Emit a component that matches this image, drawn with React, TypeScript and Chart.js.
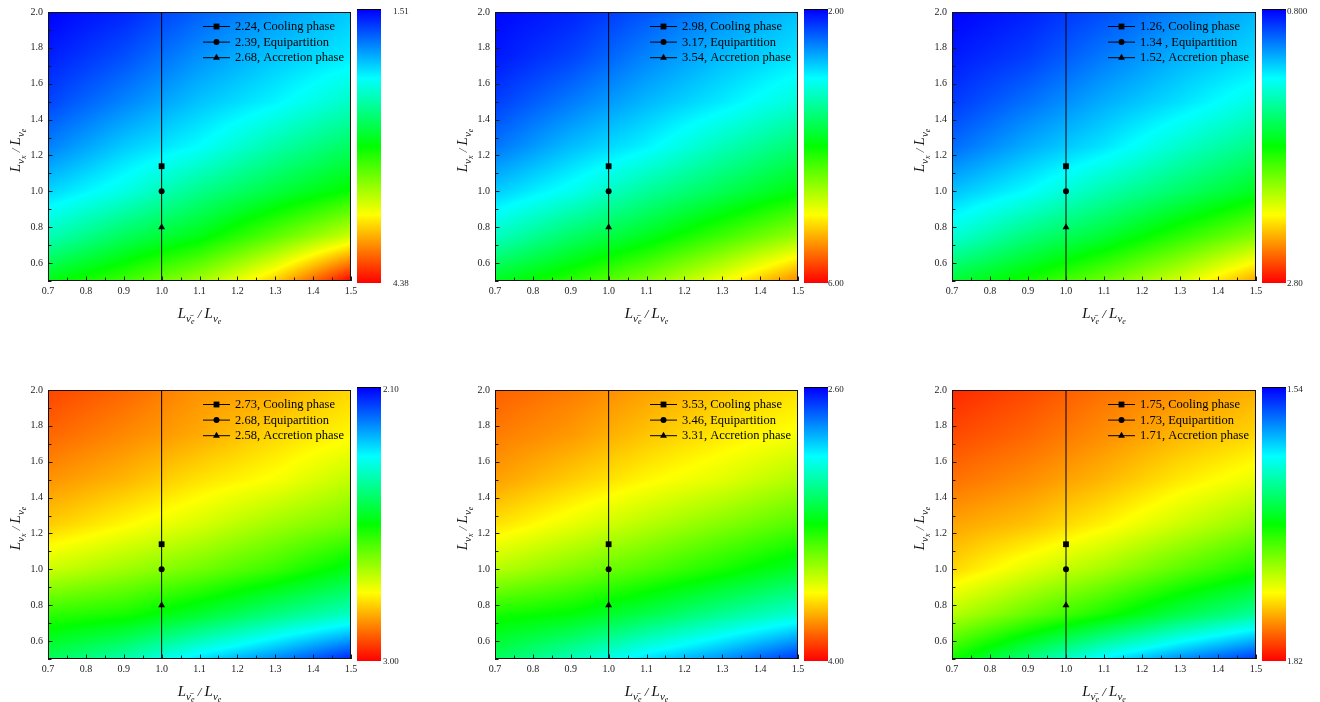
import React, { useEffect, useRef } from "react";
import { Chart, registerables } from "chart.js";

Chart.register(...registerables);

// ---------------- data ----------------
// grid nodes of the colour maps
const gridX = [0.7, 0.9, 1.1, 1.3, 1.5];
const gridY = [0.5, 0.75, 1.0, 1.25, 1.5, 1.75, 2.0];

// values, one row per gridY value (bottom to top), one column per gridX value
const fieldA = [
  [2.9, 3.12, 3.4, 3.81, 4.38],
  [2.43, 2.69, 2.89, 3.2, 3.52],
  [2.11, 2.3, 2.56, 2.77, 2.97],
  [1.87, 2.08, 2.23, 2.47, 2.68],
  [1.7, 1.88, 2.06, 2.2, 2.39],
  [1.59, 1.73, 1.92, 2.07, 2.18],
  [1.51, 1.61, 1.78, 1.94, 2.08],
];
const fieldB = [
  [3.88, 4.16, 4.52, 4.96, 5.48],
  [3.24, 3.6, 3.88, 4.24, 4.6],
  [2.8, 3.06, 3.4, 3.68, 3.96],
  [2.46, 2.74, 2.96, 3.28, 3.56],
  [2.24, 2.48, 2.72, 2.92, 3.16],
  [2.09, 2.26, 2.52, 2.74, 2.9],
  [2.02, 2.13, 2.33, 2.56, 2.76],
];
const fieldC = [
  [1.7, 1.84, 2.02, 2.22, 2.48],
  [1.38, 1.56, 1.7, 1.88, 2.06],
  [1.18, 1.3, 1.46, 1.6, 1.74],
  [1.01, 1.14, 1.25, 1.4, 1.54],
  [0.91, 1.02, 1.14, 1.24, 1.36],
  [0.85, 0.92, 1.04, 1.15, 1.23],
  [0.8, 0.86, 0.95, 1.06, 1.16],
];
const fieldD = [
  [2.47, 2.4, 2.3, 2.22, 2.13],
  [2.59, 2.57, 2.51, 2.44, 2.38],
  [2.73, 2.69, 2.65, 2.6, 2.53],
  [2.82, 2.78, 2.74, 2.69, 2.65],
  [2.87, 2.84, 2.8, 2.77, 2.72],
  [2.91, 2.88, 2.85, 2.81, 2.78],
  [2.94, 2.91, 2.87, 2.85, 2.81],
];
const fieldE = [
  [3.17, 3.05, 2.91, 2.8, 2.67],
  [3.33, 3.29, 3.2, 3.1, 3.01],
  [3.55, 3.48, 3.41, 3.33, 3.24],
  [3.69, 3.62, 3.55, 3.48, 3.41],
  [3.78, 3.72, 3.66, 3.61, 3.54],
  [3.83, 3.79, 3.73, 3.68, 3.64],
  [3.87, 3.83, 3.78, 3.73, 3.69],
];
const fieldF = [
  [1.684, 1.645, 1.607, 1.579, 1.554],
  [1.73, 1.708, 1.686, 1.66, 1.638],
  [1.761, 1.742, 1.725, 1.705, 1.686],
  [1.775, 1.767, 1.753, 1.736, 1.719],
  [1.789, 1.781, 1.77, 1.756, 1.744],
  [1.8, 1.792, 1.781, 1.77, 1.761],
  [1.809, 1.8, 1.789, 1.781, 1.772],
];
const fields = [fieldA, fieldB, fieldC, fieldD, fieldE, fieldF];

// colour bar ranges
const barLow = [1.51, 2.0, 0.8, 2.1, 2.6, 1.54];
const barHigh = [4.38, 6.0, 2.8, 3.0, 4.0, 1.82];
const barLowText = ["1.51", "2.00", "0.800", "2.10", "2.60", "1.54"];
const barHighText = ["4.38", "6.00", "2.80", "3.00", "4.00", "1.82"];

// marked points (x = 1.0)
const markerX = 1.0;
const markerY = [1.14, 1.0, 0.8]; // cooling, equipartition, accretion
const coolingVals = [2.24, 2.98, 1.26, 2.73, 3.53, 1.75];
const equipVals = [2.39, 3.17, 1.34, 2.68, 3.46, 1.73];
const accretionVals = [2.68, 3.54, 1.52, 2.58, 3.31, 1.71];
const equipSep = [", ", ", ", " , ", ", ", ", ", ", "];
const seriesNames = ["Cooling phase", "Equipartition", "Accretion phase"];
const seriesStyles = ["rect", "circle", "triangle"];
const lineY = [0.5, 2.0];

// axes
const xTicks = [0.7, 0.8, 0.9, 1.0, 1.1, 1.2, 1.3, 1.4, 1.5];
const xMinor = [0.75, 0.85, 0.95, 1.05, 1.15, 1.25, 1.35, 1.45];
const yTicks = [0.6, 0.8, 1.0, 1.2, 1.4, 1.6, 1.8, 2.0];
const yMinor = [0.5, 0.7, 0.9, 1.1, 1.3, 1.5, 1.7, 1.9];
const xMin = 0.7, xMax = 1.5, yMin = 0.5, yMax = 2.0;

// ---------------- layout ----------------
const FONT = "'Liberation Serif', 'Times New Roman', Times, serif";
const canvasLeft = [0, 447, 904];
const canvasW = [440, 440, 416];
const plotW = [303, 303, 304];
const canvasTop = [0, 378];
const canvasH = [340, 324];
const PLOT_L = 48;
const PLOT_T = 12;
const PLOT_H = 269;
const barLabelGap = [12, 0, 1, 2, 0, 1];

type Piece = { t: string; s: number; dy: number };
const xTitle: Piece[] = [
  { t: "L", s: 15, dy: 0 },
  { t: "\u03BD\u0304", s: 11, dy: 3.5 },
  { t: "e", s: 8, dy: 6 },
  { t: " / ", s: 13, dy: 0 },
  { t: "L", s: 15, dy: 0 },
  { t: "\u03BD", s: 11, dy: 3.5 },
  { t: "e", s: 8, dy: 6 },
];
const yTitle: Piece[] = [
  { t: "L", s: 15, dy: 0 },
  { t: "\u03BD", s: 11, dy: 3.5 },
  { t: "x", s: 8, dy: 6 },
  { t: " / ", s: 13, dy: 0 },
  { t: "L", s: 15, dy: 0 },
  { t: "\u03BD", s: 11, dy: 3.5 },
  { t: "e", s: 8, dy: 6 },
];

const STOPS = [
  [0, 0, 0, 255],
  [0.25, 0, 255, 255],
  [0.5, 0, 255, 0],
  [0.75, 255, 255, 0],
  [1, 255, 0, 0],
];
function cmap(t: number): number[] {
  const tt = Math.max(0, Math.min(1, t));
  for (let i = 1; i < STOPS.length; i++) {
    if (tt <= STOPS[i][0]) {
      const a = STOPS[i - 1], b = STOPS[i];
      const f = (tt - a[0]) / (b[0] - a[0]);
      return [a[1] + f * (b[1] - a[1]), a[2] + f * (b[2] - a[2]), a[3] + f * (b[3] - a[3])];
    }
  }
  return [255, 0, 0];
}

function bilinear(field: number[][], x: number, y: number) {
  let i = 0;
  while (i < gridX.length - 2 && x > gridX[i + 1]) i++;
  let j = 0;
  while (j < gridY.length - 2 && y > gridY[j + 1]) j++;
  const fx = Math.max(0, Math.min(1, (x - gridX[i]) / (gridX[i + 1] - gridX[i])));
  const fy = Math.max(0, Math.min(1, (y - gridY[j]) / (gridY[j + 1] - gridY[j])));
  const v00 = field[j][i], v10 = field[j][i + 1], v01 = field[j + 1][i], v11 = field[j + 1][i + 1];
  return v00 * (1 - fx) * (1 - fy) + v10 * fx * (1 - fy) + v01 * (1 - fx) * fy + v11 * fx * fy;
}

function drawPieces(ctx: CanvasRenderingContext2D, pieces: Piece[], cx: number, baseY: number) {
  const widths = pieces.map((p) => {
    ctx.font = `italic ${p.s}px ${FONT}`;
    return ctx.measureText(p.t).width;
  });
  const total = widths.reduce((a, b) => a + b, 0);
  let x = cx - total / 2;
  ctx.textAlign = "left";
  ctx.textBaseline = "alphabetic";
  pieces.forEach((p, k) => {
    ctx.font = `italic ${p.s}px ${FONT}`;
    ctx.fillText(p.t, x, baseY + p.dy);
    x += widths[k];
  });
}

function drawMarker(ctx: CanvasRenderingContext2D, style: string, x: number, y: number) {
  ctx.beginPath();
  if (style === "rect") {
    ctx.rect(x - 2.9, y - 2.9, 5.8, 5.8);
  } else if (style === "circle") {
    ctx.arc(x, y, 3, 0, Math.PI * 2);
  } else {
    const r = 4;
    ctx.moveTo(x, y - r);
    ctx.lineTo(x + r * 0.866, y + r / 2);
    ctx.lineTo(x - r * 0.866, y + r / 2);
    ctx.closePath();
  }
  ctx.fill();
}

function Panel({ idx }: { idx: number }) {
  const ref = useRef<HTMLCanvasElement>(null);
  const col = idx % 3;
  const row = Math.floor(idx / 3);
  const W = canvasW[col];
  const H = canvasH[row];
  const PW = plotW[col];

  useEffect(() => {
    const field = fields[idx];
    const lo = barLow[idx];
    const hi = barHigh[idx];
    const legendTexts = [
      `${coolingVals[idx].toFixed(2)}, ${seriesNames[0]}`,
      `${equipVals[idx].toFixed(2)}${equipSep[idx]}${seriesNames[1]}`,
      `${accretionVals[idx].toFixed(2)}, ${seriesNames[2]}`,
    ];

    const mapPlugin = {
      id: "mapPlugin",
      beforeDatasetsDraw(chart: any) {
        const { ctx, chartArea: a, scales } = chart;
        const w = Math.round(a.right - a.left);
        const h = Math.round(a.bottom - a.top);
        const off = document.createElement("canvas");
        off.width = w;
        off.height = h;
        const octx = off.getContext("2d")!;
        const img = octx.createImageData(w, h);
        const xs = new Array(w);
        for (let i = 0; i < w; i++) xs[i] = scales.x.getValueForPixel(a.left + i + 0.5);
        for (let j = 0; j < h; j++) {
          const yv = scales.y.getValueForPixel(a.top + j + 0.5);
          for (let i = 0; i < w; i++) {
            const v = bilinear(field, xs[i], yv);
            const c = cmap((v - lo) / (hi - lo));
            const p = (j * w + i) * 4;
            img.data[p] = c[0];
            img.data[p + 1] = c[1];
            img.data[p + 2] = c[2];
            img.data[p + 3] = 255;
          }
        }
        octx.putImageData(img, 0, 0);
        ctx.drawImage(off, Math.round(a.left), Math.round(a.top));
      },
      afterDatasetsDraw(chart: any) {
        const { ctx, chartArea: a, scales } = chart;
        const L = Math.round(a.left), T = Math.round(a.top), R = Math.round(a.right), B = Math.round(a.bottom);
        ctx.save();
        // inward ticks
        ctx.strokeStyle = "#1a1a1a";
        ctx.lineWidth = 1;
        ctx.beginPath();
        xTicks.forEach((v) => {
          const px = Math.round(scales.x.getPixelForValue(v)) + 0.5;
          ctx.moveTo(px, B);
          ctx.lineTo(px, B - 4.5);
        });
        xMinor.forEach((v) => {
          const px = Math.round(scales.x.getPixelForValue(v)) + 0.5;
          ctx.moveTo(px, B);
          ctx.lineTo(px, B - 3.5);
        });
        yTicks.forEach((v) => {
          const py = Math.round(scales.y.getPixelForValue(v)) + 0.5;
          ctx.moveTo(L, py);
          ctx.lineTo(L + 4.5, py);
        });
        yMinor.forEach((v) => {
          const py = Math.round(scales.y.getPixelForValue(v)) + 0.5;
          ctx.moveTo(L, py);
          ctx.lineTo(L + 3.5, py);
        });
        ctx.stroke();
        // frame
        ctx.strokeStyle = "#111";
        ctx.lineWidth = 1;
        ctx.strokeRect(L + 0.5, T + 0.5, R - L - 1, B - T - 1);

        // legend
        const x0 = R - 148;
        const rowsY = [T + 14, T + 29.6, T + 45.2];
        ctx.fillStyle = "#000";
        ctx.strokeStyle = "#000";
        rowsY.forEach((yy, k) => {
          ctx.beginPath();
          ctx.moveTo(x0, yy + 0.5);
          ctx.lineTo(x0 + 27, yy + 0.5);
          ctx.stroke();
          drawMarker(ctx, seriesStyles[k], x0 + 13.5, yy + 0.5);
          ctx.font = `12.5px ${FONT}`;
          ctx.textAlign = "left";
          ctx.textBaseline = "middle";
          ctx.fillText(legendTexts[k], x0 + 32, yy + 1);
        });
        ctx.restore();
      },
      afterDraw(chart: any) {
        const { ctx, chartArea: a } = chart;
        const L = Math.round(a.left), T = Math.round(a.top), R = Math.round(a.right), B = Math.round(a.bottom);
        ctx.save();
        // colour bar
        const bx = R + 6, bw = 24, bt = T - 2, bb = B + 2;
        for (let yy = bt; yy < bb; yy++) {
          const c = cmap((yy + 0.5 - bt) / (bb - bt));
          ctx.fillStyle = `rgb(${Math.round(c[0])},${Math.round(c[1])},${Math.round(c[2])})`;
          ctx.fillRect(bx, yy, bw, 1);
        }
        ctx.fillStyle = "#000";
        ctx.fillRect(bx, bt - 1, bw, 1);
        ctx.font = `9px ${FONT}`;
        ctx.fillStyle = "#222";
        ctx.textAlign = "left";
        ctx.textBaseline = "middle";
        ctx.fillText(barLowText[idx], bx + bw + barLabelGap[idx], bt + 1.5);
        ctx.fillText(barHighText[idx], bx + bw + barLabelGap[idx], bb + 1);

        // axis titles
        ctx.fillStyle = "#111";
        drawPieces(ctx, xTitle, (L + R) / 2, B + 37);
        ctx.save();
        ctx.translate(20, (T + B) / 2 + 4);
        ctx.rotate(-Math.PI / 2);
        drawPieces(ctx, yTitle, 0, 0);
        ctx.restore();
        ctx.restore();
      },
    };

    const markerData = markerY.map((y) => [{ x: markerX, y }]);

    const chart = new Chart(ref.current!, {
      type: "scatter",
      data: {
        datasets: [
          {
            type: "line",
            data: lineY.map((y) => ({ x: markerX, y })),
            borderColor: "#000",
            borderWidth: 1,
            pointRadius: 0,
            fill: false,
          } as any,
          {
            label: seriesNames[0],
            data: markerData[0],
            pointStyle: "rect",
            pointRadius: 4.1,
            backgroundColor: "#000",
            borderColor: "#000",
            borderWidth: 0,
          },
          {
            label: seriesNames[1],
            data: markerData[1],
            pointStyle: "circle",
            pointRadius: 3,
            backgroundColor: "#000",
            borderColor: "#000",
            borderWidth: 0,
          },
          {
            label: seriesNames[2],
            data: markerData[2],
            pointStyle: "triangle",
            pointRadius: 4,
            backgroundColor: "#000",
            borderColor: "#000",
            borderWidth: 0,
          },
        ],
      },
      options: {
        animation: false,
        responsive: false,
        maintainAspectRatio: false,
        events: [],
        layout: { padding: { left: 0, top: PLOT_T, right: W - PLOT_L - PW, bottom: 0 } },
        plugins: { legend: { display: false }, tooltip: { enabled: false } },
        scales: {
          x: {
            type: "linear",
            position: "bottom",
            min: xMin,
            max: xMax,
            afterBuildTicks: (s: any) => {
              s.ticks = xTicks.map((v) => ({ value: v }));
            },
            afterFit: (s: any) => {
              s.height = H - PLOT_T - PLOT_H;
            },
            grid: { display: false, drawTicks: false },
            border: { display: false },
            ticks: {
              padding: 4,
              autoSkip: false,
              maxRotation: 0,
              color: "#222",
              font: { family: FONT, size: 10 },
              callback: (v: any) => Number(v).toFixed(1),
            },
          },
          y: {
            type: "linear",
            position: "left",
            min: yMin,
            max: yMax,
            afterBuildTicks: (s: any) => {
              s.ticks = yTicks.map((v) => ({ value: v }));
            },
            afterFit: (s: any) => {
              s.width = PLOT_L;
            },
            grid: { display: false, drawTicks: false },
            border: { display: false },
            ticks: {
              padding: 5,
              autoSkip: false,
              color: "#222",
              font: { family: FONT, size: 10 },
              callback: (v: any) => Number(v).toFixed(1),
            },
          },
        },
      } as any,
      plugins: [mapPlugin],
    });
    return () => chart.destroy();
  }, [idx]);

  return (
    <canvas
      ref={ref}
      width={W}
      height={H}
      style={{ position: "absolute", left: canvasLeft[col], top: canvasTop[row], width: W, height: H }}
    />
  );
}

export default function App() {
  return (
    <div style={{ position: "absolute", left: 0, top: 0, width: 1320, height: 702, background: "#fff", overflow: "hidden" }}>
      {[0, 1, 2, 3, 4, 5].map((i) => (
        <Panel key={i} idx={i} />
      ))}
    </div>
  );
}
